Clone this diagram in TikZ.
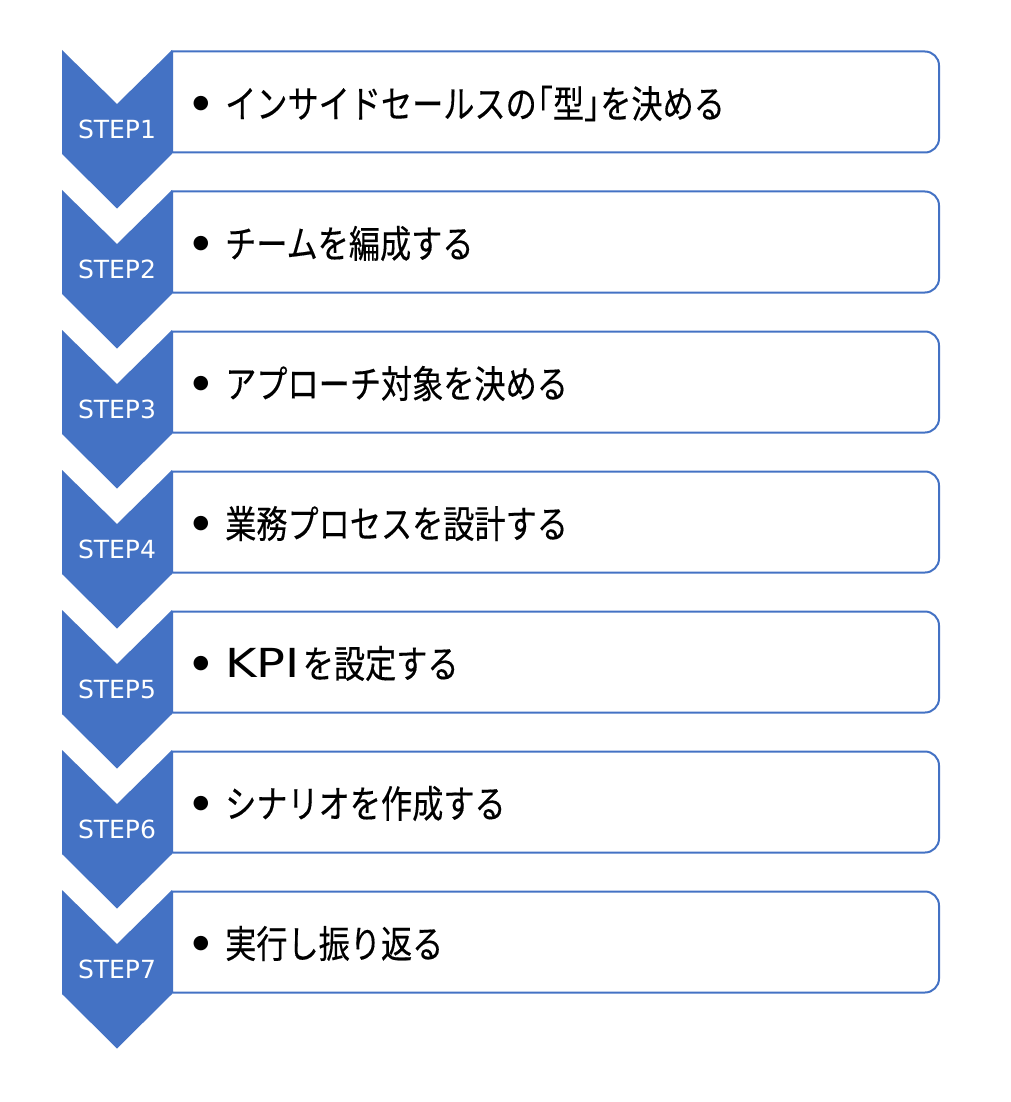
\documentclass[tikz,border=0pt]{standalone}
\usepackage{fontspec}
\newfontfamily\jpfont[FakeStretch=0.82,FakeBold=0.3]{Noto Sans CJK JP}
\newfontfamily\latinpart[FakeStretch=1.2]{DejaVu Sans}
\newfontfamily\stepfont{DejaVu Sans}
\definecolor{stepblue}{HTML}{4472C4}
\newcommand{\lbrk}{\hspace{-15pt}「}
\newcommand{\rbrk}{」\hspace{-15pt}}
\newcommand{\kpi}{{\latinpart\fontsize{40}{40}\selectfont KPI}\hspace{3pt}}
\tikzset{
  chevronfill/.style={fill=stepblue, draw=none},
  itembox/.style={draw=stepblue, line width=2pt, fill=white},
  steplabel/.style={text=white, font=\stepfont\fontsize{25}{25}\selectfont, inner sep=0pt},
  bulletmark/.style={text=black, font=\stepfont\fontsize{19}{19}\selectfont, inner sep=0pt},
  itemtext/.style={anchor=west, font=\jpfont\fontsize{38}{40}\selectfont, inner sep=0pt, text=black},
}
\begin{document}
\begin{tikzpicture}[x=1pt,y=-1pt]
\useasboundingbox (0,0) rectangle (1010,1102);
\foreach \i/\t in {1/{インサイドセールスの\lbrk 型\rbrk を決める},2/{チームを編成する},3/{アプローチ対象を決める},4/{業務プロセスを設計する},5/{\kpi を設定する},6/{シナリオを作成する},7/{実行し振り返る}}{
  \pgfmathsetmacro{\oy}{(\i-1)*140}
  \begin{scope}[yshift=-\oy pt]
    \draw[itembox, rounded corners=14pt] (172,51.5) -- (939,51.5) -- (939,152.5) [sharp corners] -- (172,152.5) -- cycle;
    \fill[chevronfill] (62,50) -- (117,104) -- (172,50) -- (172,154) -- (117,208.5) -- (62,154) -- cycle;
    \node[steplabel] (step\i) at (117,129) {STEP\i};
    \node[bulletmark] (bullet\i) at (201,104) {●};
    \node[itemtext] (item\i) at (225,103.5) {\t};
  \end{scope}
}
\end{tikzpicture}
\end{document}
